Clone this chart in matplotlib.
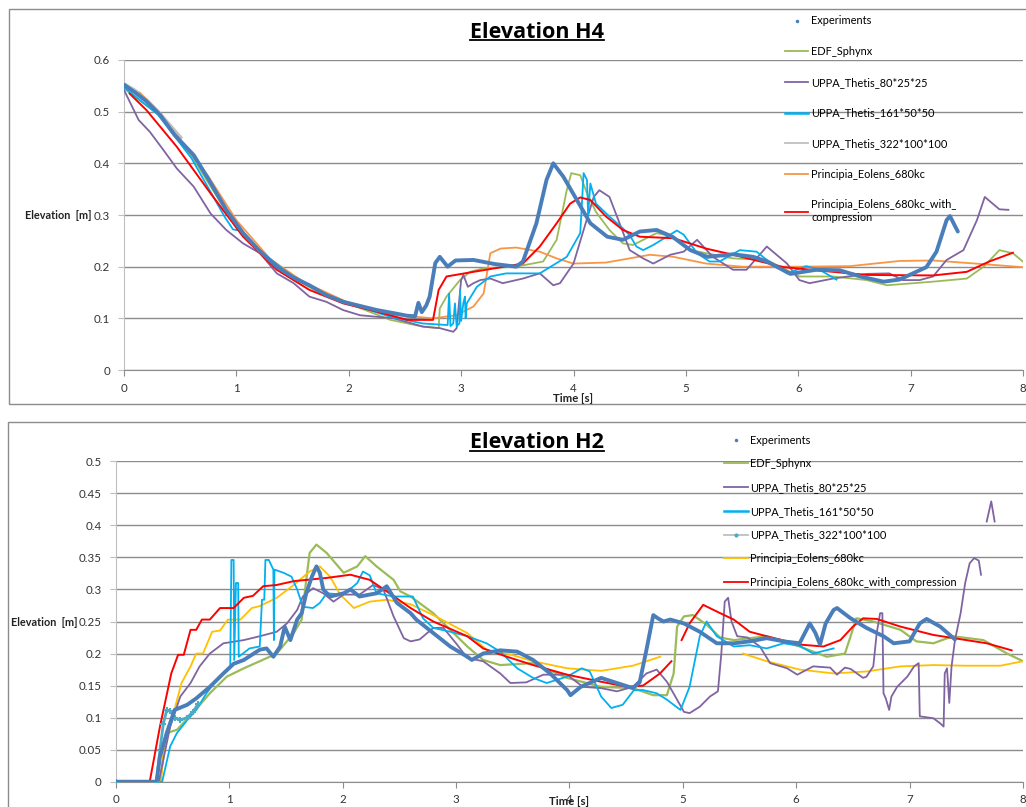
import numpy as np
import matplotlib.pyplot as plt
from matplotlib.lines import Line2D
from matplotlib.patches import Rectangle

plt.rcParams['font.family'] = ['Lato', 'DejaVu Sans']

nan = float('nan')

# ---------------- Elevation H4 : (time [s], elevation [m]) ----------------
h4_exp = [(0, 0.552), (0.1, 0.537), (0.2, 0.52), (0.32, 0.494), (0.45, 0.455), (0.62, 0.416),
          (0.75, 0.37), (0.91, 0.31), (1.06, 0.265), (1.2, 0.232), (1.36, 0.2), (1.5, 0.18),
          (1.65, 0.164), (1.8, 0.145), (1.95, 0.132), (2.1, 0.124), (2.25, 0.116), (2.4, 0.11),
          (2.52, 0.105), (2.59, 0.104), (2.62, 0.13), (2.65, 0.112), (2.69, 0.125), (2.72, 0.142),
          (2.77, 0.207), (2.81, 0.219), (2.88, 0.2), (2.95, 0.212), (3.11, 0.213), (3.3, 0.205),
          (3.49, 0.2), (3.55, 0.21), (3.67, 0.284), (3.76, 0.368), (3.82, 0.40), (3.91, 0.374),
          (4.03, 0.329), (4.15, 0.284), (4.3, 0.258), (4.44, 0.252), (4.59, 0.268), (4.74, 0.271),
          (4.88, 0.258), (5.04, 0.232), (5.19, 0.219), (5.42, 0.224), (5.6, 0.219), (5.72, 0.21),
          (5.93, 0.186), (6.16, 0.194), (6.37, 0.193), (6.55, 0.181), (6.76, 0.171), (6.9, 0.175),
          (7.02, 0.187), (7.14, 0.199), (7.23, 0.229), (7.32, 0.29), (7.35, 0.298), (7.38, 0.285),
          (7.42, 0.268)]
h4_edf = [(0, 0.545), (0.3, 0.495), (0.6, 0.415), (0.9, 0.31), (1.2, 0.23), (1.5, 0.178),
          (1.8, 0.143), (2.1, 0.12), (2.37, 0.097), (2.66, 0.084), (2.8, 0.081), (2.81, 0.119),
          (2.87, 0.142), (2.99, 0.174), (3.08, 0.19), (3.2, 0.197), (3.49, 0.2), (3.73, 0.21),
          (3.85, 0.252), (3.94, 0.348), (3.98, 0.381), (4.06, 0.377), (4.12, 0.342), (4.2, 0.306),
          (4.32, 0.271), (4.44, 0.245), (4.53, 0.242), (4.74, 0.265), (4.89, 0.258), (5.04, 0.232),
          (5.42, 0.216), (5.72, 0.213), (6.01, 0.181), (6.31, 0.181), (6.61, 0.174), (6.79, 0.164),
          (7.2, 0.171), (7.5, 0.177), (7.65, 0.2), (7.79, 0.232), (7.91, 0.226), (8.02, 0.206)]
h4_uppa80 = [(0, 0.542), (0.13, 0.484), (0.23, 0.461), (0.35, 0.426), (0.47, 0.39), (0.62, 0.355),
             (0.77, 0.303), (0.91, 0.271), (1.06, 0.245), (1.21, 0.226), (1.36, 0.187), (1.51, 0.168),
             (1.65, 0.142), (1.8, 0.132), (1.95, 0.116), (2.1, 0.106), (2.4, 0.1), (2.66, 0.084),
             (2.81, 0.081), (2.93, 0.074), (2.96, 0.081), (3.0, 0.174), (3.02, 0.184), (3.06, 0.161),
             (3.11, 0.168), (3.17, 0.174), (3.26, 0.177), (3.37, 0.168), (3.55, 0.177), (3.7, 0.187),
             (3.82, 0.164), (3.88, 0.168), (4.0, 0.206), (4.09, 0.271), (4.18, 0.335), (4.23, 0.348),
             (4.32, 0.335), (4.41, 0.284), (4.5, 0.232), (4.62, 0.216), (4.71, 0.206), (4.86, 0.223),
             (4.98, 0.229), (5.1, 0.252), (5.24, 0.219), (5.42, 0.194), (5.54, 0.194), (5.72, 0.239),
             (5.9, 0.206), (6.01, 0.174), (6.1, 0.168), (6.31, 0.177), (6.61, 0.186), (6.81, 0.187),
             (6.93, 0.174), (7.08, 0.174), (7.2, 0.181), (7.32, 0.213), (7.47, 0.232), (7.59, 0.29),
             (7.66, 0.335), (7.73, 0.322), (7.79, 0.311), (7.87, 0.31)]
h4_uppa161 = [(0, 0.547), (0.3, 0.495), (0.6, 0.41), (0.9, 0.295), (0.97, 0.272), (1.03, 0.27),
              (1.1, 0.255), (1.2, 0.233), (1.5, 0.18), (1.8, 0.145), (2.1, 0.122), (2.37, 0.103),
              (2.66, 0.09), (2.88, 0.087), (2.893, 0.148), (2.905, 0.085), (2.93, 0.09), (2.945, 0.129),
              (2.96, 0.085), (2.985, 0.09), (2.99, 0.155), (3.0, 0.095), (3.02, 0.13), (3.034, 0.142),
              (3.04, 0.1), (3.05, 0.129), (3.14, 0.161), (3.26, 0.181), (3.4, 0.187), (3.7, 0.187),
              (3.94, 0.219), (4.06, 0.265), (4.09, 0.381), (4.12, 0.368), (4.13, 0.3), (4.15, 0.361),
              (4.2, 0.322), (4.32, 0.297), (4.44, 0.274), (4.5, 0.261), (4.56, 0.239), (4.62, 0.232),
              (4.71, 0.242), (4.83, 0.258), (4.92, 0.27), (4.98, 0.262), (5.1, 0.226), (5.21, 0.21),
              (5.3, 0.21), (5.48, 0.232), (5.63, 0.229), (5.72, 0.213), (5.9, 0.187), (6.07, 0.201),
              (6.19, 0.194), (6.34, 0.175)]
h4_uppa322 = [(0, 0.553), (0.1, 0.54), (0.2, 0.522), (0.3, 0.5), (0.5, 0.45)]
h4_princ = [(0.14, 0.537), (0.3, 0.5), (0.5, 0.445), (0.75, 0.375), (1.0, 0.29), (1.3, 0.215),
            (1.6, 0.17), (2.0, 0.13), (2.4, 0.107), (2.75, 0.1), (2.96, 0.106), (3.11, 0.123),
            (3.2, 0.148), (3.23, 0.187), (3.26, 0.226), (3.35, 0.235), (3.49, 0.237), (3.7, 0.229),
            (3.85, 0.216), (4.0, 0.206), (4.29, 0.208), (4.68, 0.223), (4.89, 0.219), (5.18, 0.206),
            (5.5, 0.2), (6.0, 0.2), (6.46, 0.201), (6.9, 0.211), (7.2, 0.212), (7.64, 0.205),
            (8.0, 0.199)]
h4_princ_comp = [(0.05, 0.535), (0.2, 0.503), (0.47, 0.432), (0.77, 0.342), (1.06, 0.258),
                 (1.36, 0.194), (1.65, 0.155), (1.95, 0.129), (2.25, 0.113), (2.52, 0.097),
                 (2.75, 0.097), (2.8, 0.155), (2.87, 0.181), (3.11, 0.19), (3.55, 0.206), (3.7, 0.239),
                 (3.85, 0.284), (3.97, 0.322), (4.06, 0.334), (4.15, 0.329), (4.29, 0.297),
                 (4.44, 0.271), (4.59, 0.258), (4.89, 0.255), (5.18, 0.235), (5.42, 0.223),
                 (5.87, 0.199), (6.31, 0.19), (6.61, 0.184), (7.2, 0.183), (7.5, 0.19), (7.7, 0.21),
                 (7.91, 0.227)]

# ---------------- Elevation H2 ----------------
h2_exp = [(0, 0), (0.36, 0), (0.39, 0.039), (0.45, 0.076), (0.52, 0.112), (0.63, 0.12), (0.71, 0.13),
          (0.83, 0.148), (0.95, 0.169), (1.04, 0.184), (1.13, 0.19), (1.27, 0.206), (1.33, 0.208),
          (1.39, 0.195), (1.45, 0.211), (1.49, 0.242), (1.54, 0.221), (1.6, 0.253), (1.64, 0.263),
          (1.68, 0.294), (1.73, 0.32), (1.77, 0.336), (1.8, 0.326), (1.83, 0.3), (1.89, 0.289),
          (2.01, 0.294), (2.07, 0.3), (2.15, 0.289), (2.3, 0.294), (2.39, 0.305), (2.48, 0.279),
          (2.6, 0.263), (2.65, 0.253), (2.8, 0.232), (2.95, 0.211), (3.1, 0.195), (3.14, 0.19),
          (3.24, 0.2), (3.39, 0.205), (3.54, 0.203), (3.68, 0.19), (3.83, 0.169), (3.98, 0.143),
          (4.01, 0.135), (4.1, 0.148), (4.28, 0.162), (4.42, 0.154), (4.56, 0.146), (4.62, 0.155),
          (4.68, 0.206), (4.74, 0.26), (4.78, 0.255), (4.83, 0.25), (4.89, 0.253), (5.01, 0.247),
          (5.15, 0.234), (5.3, 0.216), (5.45, 0.216), (5.59, 0.219), (5.74, 0.224), (5.89, 0.219),
          (6.03, 0.216), (6.12, 0.247), (6.17, 0.232), (6.21, 0.214), (6.26, 0.247), (6.33, 0.268),
          (6.36, 0.271), (6.48, 0.255), (6.62, 0.24), (6.77, 0.227), (6.86, 0.216), (7.0, 0.219),
          (7.09, 0.247), (7.15, 0.254), (7.27, 0.242), (7.4, 0.222)]
h2_edf = [(0, 0), (0.39, 0), (0.45, 0.076), (0.54, 0.081), (0.68, 0.107), (0.83, 0.138), (0.98, 0.164),
          (1.13, 0.177), (1.27, 0.188), (1.42, 0.2), (1.57, 0.232), (1.64, 0.253), (1.68, 0.315),
          (1.71, 0.357), (1.77, 0.37), (1.86, 0.357), (2.01, 0.326), (2.13, 0.336), (2.2, 0.352),
          (2.3, 0.336), (2.45, 0.315), (2.51, 0.297), (2.6, 0.289), (2.8, 0.263), (3.1, 0.211),
          (3.24, 0.19), (3.39, 0.182), (3.68, 0.185), (3.98, 0.162), (4.28, 0.148), (4.56, 0.146),
          (4.74, 0.135), (4.86, 0.135), (4.92, 0.169), (4.95, 0.242), (5.01, 0.258), (5.09, 0.26),
          (5.21, 0.245), (5.33, 0.225), (5.45, 0.221), (5.74, 0.227), (6.03, 0.211), (6.27, 0.195),
          (6.43, 0.2), (6.48, 0.227), (6.53, 0.255), (6.68, 0.25), (6.92, 0.237), (7.06, 0.219),
          (7.21, 0.216), (7.38, 0.227), (7.65, 0.221), (7.86, 0.2), (8.0, 0.188)]
h2_uppa80 = [(0, 0), (0.38, 0), (0.48, 0.086), (0.57, 0.133), (0.66, 0.154), (0.74, 0.18), (0.83, 0.2),
             (0.95, 0.216), (1.13, 0.221), (1.27, 0.227), (1.42, 0.234), (1.51, 0.247), (1.6, 0.268),
             (1.65, 0.289), (1.74, 0.302), (1.83, 0.294), (1.92, 0.281), (2.01, 0.292), (2.15, 0.292),
             (2.27, 0.307), (2.36, 0.3), (2.45, 0.258), (2.54, 0.224), (2.6, 0.219), (2.68, 0.222),
             (2.8, 0.24), (2.89, 0.24), (3.01, 0.214), (3.1, 0.193), (3.24, 0.188), (3.39, 0.169),
             (3.48, 0.154), (3.62, 0.155), (3.77, 0.167), (3.98, 0.167), (4.12, 0.148), (4.28, 0.146),
             (4.42, 0.141), (4.56, 0.148), (4.68, 0.169), (4.77, 0.175), (4.86, 0.156), (4.95, 0.128),
             (5.01, 0.109), (5.06, 0.107), (5.15, 0.117), (5.24, 0.133), (5.31, 0.141), (5.34, 0.2),
             (5.37, 0.281), (5.4, 0.287), (5.43, 0.25), (5.48, 0.227), (5.57, 0.225), (5.68, 0.211),
             (5.77, 0.185), (5.92, 0.177), (6.01, 0.167), (6.15, 0.18), (6.3, 0.178), (6.36, 0.167),
             (6.43, 0.178), (6.48, 0.176), (6.59, 0.162), (6.62, 0.164), (6.68, 0.18), (6.71, 0.232),
             (6.74, 0.263), (6.76, 0.263), (6.77, 0.138), (6.79, 0.13), (6.82, 0.112), (6.84, 0.133),
             (6.89, 0.148), (6.98, 0.164), (7.04, 0.18), (7.08, 0.185), (7.09, 0.102), (7.21, 0.099),
             (7.27, 0.091), (7.3, 0.086), (7.31, 0.169), (7.33, 0.177), (7.35, 0.123), (7.37, 0.18),
             (7.4, 0.221), (7.45, 0.263), (7.49, 0.31), (7.53, 0.341), (7.57, 0.349), (7.61, 0.345),
             (7.63, 0.323), (nan, nan), (7.68, 0.406), (7.72, 0.4375), (7.75, 0.406)]
h2_uppa161 = [(0, 0), (0.41, 0), (0.48, 0.055), (0.54, 0.076), (0.63, 0.096), (0.71, 0.112),
              (0.8, 0.138), (0.89, 0.159), (1.01, 0.18), (1.02, 0.346), (1.04, 0.346), (1.045, 0.19),
              (1.06, 0.31), (1.08, 0.31), (1.085, 0.195), (1.18, 0.208), (1.27, 0.211), (1.29, 0.284),
              (1.31, 0.284), (1.32, 0.346), (1.35, 0.346), (1.39, 0.331), (1.395, 0.221), (1.4, 0.331),
              (1.48, 0.326), (1.55, 0.32), (1.6, 0.3), (1.65, 0.273), (1.74, 0.271), (1.8, 0.279),
              (1.86, 0.294), (2.01, 0.292), (2.13, 0.31), (2.18, 0.328), (2.24, 0.322), (2.3, 0.294),
              (2.45, 0.289), (2.62, 0.289), (2.71, 0.255), (2.8, 0.24), (2.95, 0.234), (3.1, 0.227),
              (3.27, 0.216), (3.39, 0.203), (3.54, 0.177), (3.68, 0.162), (3.8, 0.154), (3.98, 0.164),
              (4.11, 0.177), (4.18, 0.172), (4.28, 0.133), (4.37, 0.115), (4.47, 0.12), (4.57, 0.143),
              (4.65, 0.143), (4.77, 0.138), (4.86, 0.128), (4.98, 0.112), (5.06, 0.148), (5.15, 0.227),
              (5.21, 0.25), (5.3, 0.227), (5.45, 0.211), (5.59, 0.213), (5.74, 0.208), (5.89, 0.216),
              (6.03, 0.212), (6.15, 0.2), (6.33, 0.208)]
h2_uppa322 = [(0, 0), (0.36, 0), (0.39, 0.05), (0.42, 0.09), (0.45, 0.112), (0.48, 0.11), (0.52, 0.1),
              (0.57, 0.096), (0.63, 0.1), (0.68, 0.109), (0.73, 0.122)]
h2_princ = [(0, 0), (0.4, 0), (0.42, 0.044), (0.51, 0.107), (0.58, 0.154), (0.66, 0.18), (0.71, 0.2),
            (0.77, 0.2), (0.85, 0.234), (0.92, 0.236), (0.99, 0.253), (1.1, 0.253), (1.2, 0.271),
            (1.27, 0.274), (1.42, 0.287), (1.57, 0.307), (1.71, 0.328), (1.8, 0.336), (1.89, 0.32),
            (1.98, 0.292), (2.1, 0.271), (2.24, 0.281), (2.39, 0.284), (2.6, 0.277), (2.8, 0.26),
            (3.1, 0.232), (3.27, 0.206), (3.49, 0.198), (3.68, 0.188), (3.98, 0.177), (4.28, 0.173),
            (4.56, 0.181), (4.8, 0.195), (nan, nan), (5.53, 0.2), (5.74, 0.188), (6.03, 0.175),
            (6.33, 0.169), (6.62, 0.172), (6.92, 0.18), (7.21, 0.182), (7.5, 0.181), (7.8, 0.181),
            (8.0, 0.188)]
h2_princ_comp = [(0, 0), (0.3, 0), (0.39, 0.086), (0.49, 0.169), (0.55, 0.198), (0.6, 0.198),
                 (0.66, 0.237), (0.71, 0.237), (0.76, 0.253), (0.83, 0.253), (0.92, 0.271), (1.04, 0.271),
                 (1.13, 0.287), (1.21, 0.29), (1.3, 0.305), (1.42, 0.307), (1.57, 0.313), (1.86, 0.318),
                 (2.07, 0.323), (2.24, 0.315), (2.39, 0.297), (2.6, 0.271), (2.8, 0.25), (3.1, 0.227),
                 (3.24, 0.208), (3.45, 0.195), (3.68, 0.182), (3.98, 0.167), (4.28, 0.156), (4.51, 0.148),
                 (4.65, 0.15), (4.8, 0.169), (4.9, 0.188), (nan, nan), (4.99, 0.221), (5.06, 0.247),
                 (5.18, 0.276), (5.33, 0.263), (5.45, 0.253), (5.59, 0.234), (5.74, 0.227), (5.92, 0.219),
                 (6.03, 0.214), (6.24, 0.211), (6.39, 0.221), (6.5, 0.242), (6.59, 0.255), (6.71, 0.254),
                 (6.92, 0.242), (7.21, 0.229), (7.5, 0.221), (7.68, 0.216), (7.9, 0.205)]

labels = ['Experiments', 'EDF_Sphynx', 'UPPA_Thetis_80*25*25', 'UPPA_Thetis_161*50*50',
          'UPPA_Thetis_322*100*100', 'Principia_Eolens_680kc', 'Principia_Eolens_680kc_with_compression']

c_exp = '#4A7EBB'
c_edf = '#9BBB59'
c_u80 = '#8064A2'
c_u161 = '#00B0F0'
c_u322 = '#BFBFBF'
c_teal = '#4BACC6'
c_p4 = '#F79646'
c_p2 = '#FFC000'
c_red = '#FF0000'
grid_c = '#8C8C8C'

W, H = 1026, 807
fig = plt.figure(figsize=(W / 100, H / 100), dpi=100)

# panel frames
fig.add_artist(Rectangle((9 / W, 1 - 404 / H), 1.1, 395 / H, transform=fig.transFigure,
                         fill=False, ec='#8C8C8C', lw=1))
fig.add_artist(Rectangle((8 / W, -0.1), 1.1, 1 - 422 / H + 0.1, transform=fig.transFigure,
                         fill=False, ec='#8C8C8C', lw=1))

ax1 = fig.add_axes([124 / W, 1 - 370 / H, 899 / W, 310 / H])
ax2 = fig.add_axes([115.7 / W, 1 - 781.7 / H, 907.3 / W, 320.4 / H])


def xy(pairs):
    a = np.array(pairs, dtype=float)
    return a[:, 0], a[:, 1]


def style(ax, ymax, ystep):
    ax.set_xlim(0, 8)
    ax.set_ylim(0, ymax)
    ax.set_xticks(range(9))
    yt = np.round(np.arange(0, ymax + 1e-9, ystep), 2)
    ax.set_yticks(yt)
    ax.set_yticklabels([f'{v:g}' for v in yt])
    ax.grid(axis='y', color=grid_c, lw=1)
    ax.set_axisbelow(True)
    for s in ['top', 'right']:
        ax.spines[s].set_visible(False)
    ax.spines['left'].set_color('#BFBFBF')
    ax.spines['bottom'].set_color(grid_c)
    ax.tick_params(axis='both', labelsize=8.3, colors='#333333', length=4, width=0.8)
    ax.tick_params(axis='y', color='#BFBFBF', pad=6)
    ax.tick_params(axis='x', color=grid_c, pad=5)


# ---- top: H4 ----
lw = 1.3
x, y = xy(h4_uppa322); ax1.plot(x, y, color=c_u322, lw=3, zorder=2)
x, y = xy(h4_edf); ax1.plot(x, y, color=c_edf, lw=lw, zorder=3)
x, y = xy(h4_princ); ax1.plot(x, y, color=c_p4, lw=lw, zorder=3)
x, y = xy(h4_uppa80); ax1.plot(x, y, color=c_u80, lw=lw, zorder=3)
x, y = xy(h4_uppa161); ax1.plot(x, y, color=c_u161, lw=lw, zorder=3)
x, y = xy(h4_princ_comp); ax1.plot(x, y, color=c_red, lw=1.4, zorder=4)
x, y = xy(h4_exp); ax1.plot(x, y, color=c_exp, lw=2.8, zorder=5, solid_capstyle='round')
style(ax1, 0.6, 0.1)

# ---- bottom: H2 ----
x, y = xy(h2_edf); ax2.plot(x, y, color=c_edf, lw=1.6, zorder=3)
x, y = xy(h2_princ); ax2.plot(x, y, color=c_p2, lw=lw, zorder=3)
x, y = xy(h2_uppa80); ax2.plot(x, y, color=c_u80, lw=lw, zorder=3)
x, y = xy(h2_uppa161); ax2.plot(x, y, color=c_u161, lw=lw, zorder=3)
x, y = xy(h2_princ_comp); ax2.plot(x, y, color=c_red, lw=1.4, zorder=4)
x, y = xy(h2_uppa322); ax2.plot(x, y, color=c_teal, lw=2, marker='+', ms=4, mew=1.5, zorder=4)
x, y = xy(h2_exp); ax2.plot(x, y, color=c_exp, lw=2.8, zorder=5, solid_capstyle='round')
style(ax2, 0.5, 0.05)

for ax, lx, ly, xl_y in [(ax1, -0.0356, 0.497, -0.074), (ax2, -0.0416, 0.4975, -0.045)]:
    ax.set_ylabel('Elevation  [m]', rotation=0, ha='right', va='center', fontsize=7.8,
                  fontweight='bold', color='#222222')
    ax.yaxis.set_label_coords(lx, ly)
    ax.set_xlabel('Time [s]', fontsize=8.2, fontweight='bold', color='#222222')
    ax.xaxis.set_label_coords(0.5, xl_y)

# legends
fs = 7.9
fpx = fs * 100 / 72


def handles(p_color, with_marker):
    return [Line2D([], [], ls='none', marker='o', ms=1.5, color=c_exp),
            Line2D([], [], color=c_edf, lw=1.3),
            Line2D([], [], color=c_u80, lw=1.3),
            Line2D([], [], color=c_u161, lw=1.8),
            Line2D([], [], color=c_u322, lw=1.3, marker='o' if with_marker else None, ms=2,
                   mfc=c_teal, mec=c_teal),
            Line2D([], [], color=p_color, lw=1.3),
            Line2D([], [], color=c_red, lw=1.3)]


top_labels = labels[:-1] + ['Principia_Eolens_680kc_with_\ncompression']
fig.legend(handles(c_p4, False), top_labels, loc='upper left',
           bbox_to_anchor=(785 / W, 1 - 15.5 / H), frameon=False, borderaxespad=0, borderpad=0,
           fontsize=fs, handlelength=23 / fpx, handletextpad=3 / fpx, labelspacing=1.79)
fig.legend(handles(c_p2, True), labels, loc='upper left',
           bbox_to_anchor=(724 / W, 1 - 434.5 / H), frameon=False, borderaxespad=0, borderpad=0,
           fontsize=fs, handlelength=24 / fpx, handletextpad=2 / fpx, labelspacing=1.16)

# titles, underlined
titles = [fig.text(537 / W, 1 - 32 / H, 'Elevation H4', ha='center', va='center',
                   fontsize=15.5, fontweight='bold', family='Open Sans'),
          fig.text(537 / W, 1 - 443 / H, 'Elevation H2', ha='center', va='center',
                   fontsize=15.5, fontweight='bold', family='Open Sans')]
fig.canvas.draw()
r = fig.canvas.get_renderer()
for t in titles:
    bb = t.get_window_extent(r)
    yline = bb.y0 + 2.5
    fig.add_artist(Line2D([bb.x0 / W, bb.x1 / W], [yline / H, yline / H],
                          transform=fig.transFigure, color='black', lw=1.3))

fig.savefig('out.png', dpi=100, facecolor='white')
